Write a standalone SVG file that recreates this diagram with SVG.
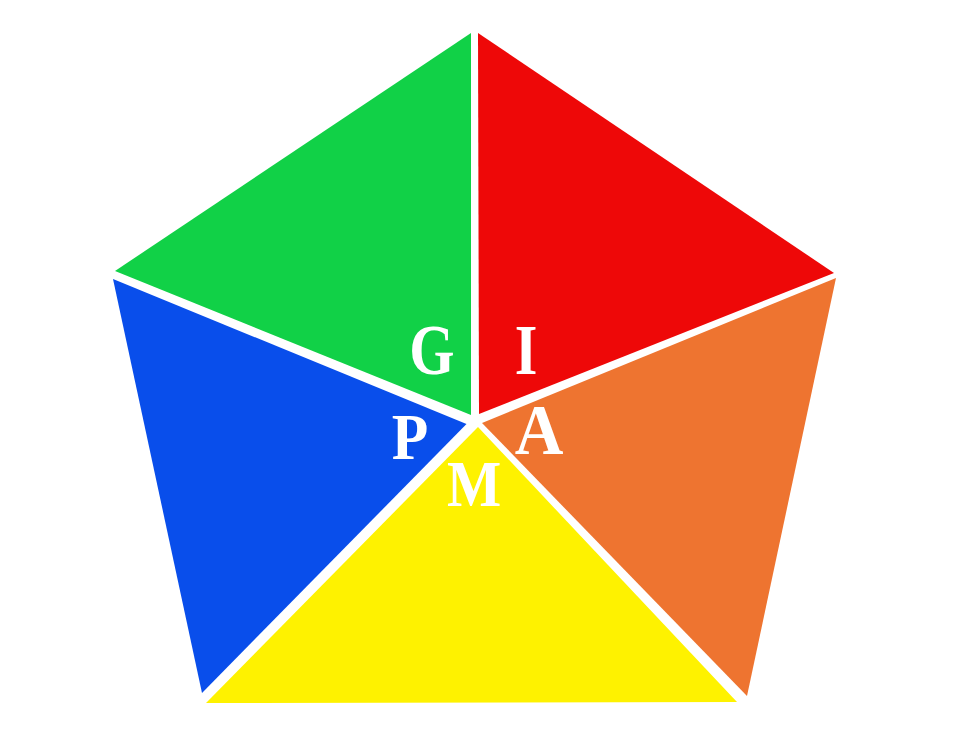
<svg xmlns="http://www.w3.org/2000/svg" width="956" height="744" viewBox="0 0 956 744">
<style>
.lbl{font-family:"Liberation Serif","Times New Roman",serif;font-weight:bold;fill:#ffffff;text-anchor:middle}
</style>
<rect width="956" height="744" fill="#ffffff"/>
<g id="green"><polygon points="471,33 115,271 471,415" fill="#11D147"/></g>
<g id="red"><polygon points="478,33 834,273 479,414" fill="#EE0808"/></g>
<g id="orange"><polygon points="836,278 747,696 482,423" fill="#EE7430"/></g>
<g id="yellow"><polygon points="478,427 737,702 206,703" fill="#FEF200"/></g>
<g id="blue"><polygon points="113,279 466.5,424 202,693" fill="#094EEB"/></g>
<g id="labels">
<text class="lbl" font-size="71" transform="translate(432,374) scale(0.82,1)">G</text>
<text class="lbl" font-size="71" transform="translate(526,374) scale(0.82,1)">I</text>
<text class="lbl" font-size="65" transform="translate(410,459) scale(0.92,1)">P</text>
<text class="lbl" font-size="71" transform="translate(539,454) scale(0.95,1)">A</text>
<text class="lbl" font-size="66" transform="translate(474,506) scale(0.87,1)">M</text>
</g>
</svg>
